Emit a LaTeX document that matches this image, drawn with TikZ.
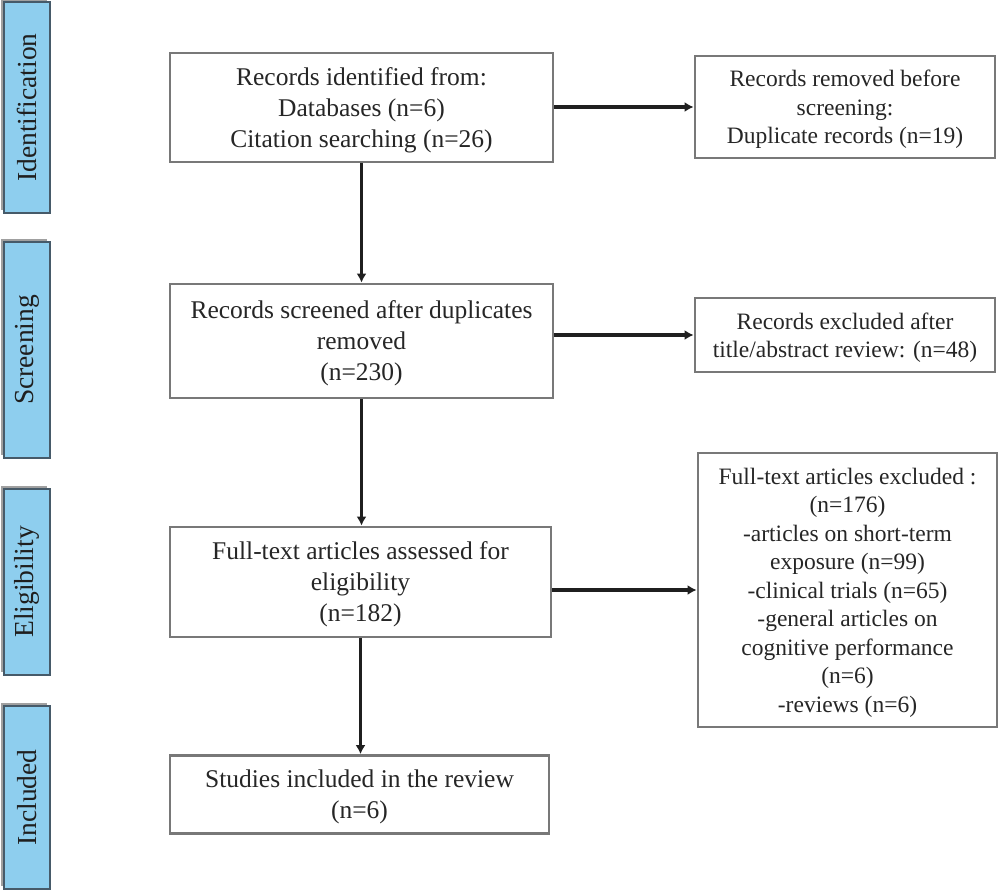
\documentclass[tikz,border=0pt]{standalone}
\usepackage{fontspec}
\setmainfont{Liberation Serif}
\usetikzlibrary{arrows.meta}
\definecolor{barblue}{RGB}{142,206,238}
\definecolor{barline}{RGB}{70,90,105}
\definecolor{boxline}{RGB}{120,120,120}
\definecolor{txt}{RGB}{38,38,38}
\definecolor{shade}{RGB}{160,160,160}
\begin{document}
\begin{tikzpicture}[x=1pt,y=-1pt,
  lbox/.style={draw=boxline, line width=2.8pt, fill=white, text=txt, align=center,
    inner sep=0pt, text depth=0pt, font=\fontsize{25.5}{31}\selectfont},
  rbox/.style={draw=boxline, line width=2.8pt, fill=white, text=txt, align=center,
    inner sep=0pt, text depth=0pt, font=\fontsize{23.5}{28.5}\selectfont},
  arr/.style={draw=black!88, line width=3.5pt, -{Latex[length=9pt,width=10pt]}},
  phase/.style={draw=barline, line width=2pt, fill=barblue, inner sep=0pt, rotate=90,
    minimum height=46pt, text=black!88, font=\fontsize{27.5}{27.5}\selectfont,
    preaction={fill=shade, transform canvas={shift={(-3pt,3pt)}}}}
]
\useasboundingbox (0,0) rectangle (1000,894);

% phase bars
\node[phase, minimum width=211pt] (p1) at (27,107.5) {Identification};
\node[phase, minimum width=216pt] (p2) at (27,350) {Screening};
\node[phase, minimum width=186pt] (p3) at (27,582) {Eligibility};
\node[phase, minimum width=183pt] (p4) at (27,797.5) {Included};

% main column
\node[lbox, minimum width=383pt, minimum height=109pt] (b1) at (361.5,107.5)
  {Records identified from:\\Databases (n=6)\\Citation searching (n=26)};
\node[lbox, minimum width=383pt, minimum height=114pt] (b2) at (361.5,341)
  {Records screened after duplicates\\removed\\(n=230)};
\node[lbox, minimum width=381pt, minimum height=110pt] (b3) at (360.5,582)
  {Full-text articles assessed for\\eligibility\\(n=182)};
\node[lbox, minimum width=379pt, minimum height=78pt] (b4) at (359.5,794.5)
  {Studies included in the review\\(n=6)};

% right column
\node[rbox, minimum width=300pt, minimum height=102pt] (r1) at (845,107)
  {Records removed before\\screening:\\Duplicate records (n=19)};
\node[rbox, minimum width=300pt, minimum height=74pt] (r2) at (845,335)
  {Records excluded after\\title/abstract review: (n=48)};
\node[rbox, minimum width=299pt, minimum height=274pt] (r3) at (847.5,590)
  {Full-text articles excluded :\\(n=176)\\-articles on short-term\\exposure (n=99)\\-clinical trials (n=65)\\-general articles on\\cognitive performance\\(n=6)\\-reviews (n=6)};

% connectors
\draw[arr] (b1.south) -- (b1.south |- b2.north);
\draw[arr] (b2.south) -- (b2.south |- b3.north);
\draw[arr] (b3.south) -- (b3.south |- b4.north);
\draw[arr] (r1.west -| b1.east) -- (r1.west);
\draw[arr] (r2.west -| b2.east) -- (r2.west);
\draw[arr] (r3.west -| b3.east) -- (r3.west);
\end{tikzpicture}
\end{document}
